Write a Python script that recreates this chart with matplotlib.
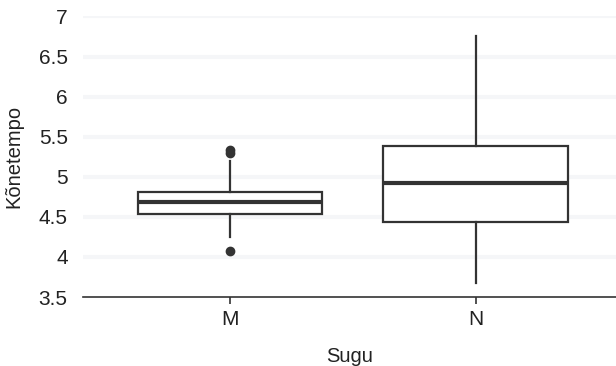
import matplotlib.pyplot as plt

plt.rcParams['font.family'] = ['Liberation Sans', 'DejaVu Sans']

# speech tempo by gender
categories = ['M', 'N']
whislo = [4.25, 3.68]
q1 = [4.535, 4.44]
med = [4.685, 4.92]
q3 = [4.805, 5.385]
whishi = [5.20, 6.76]
fliers = [[5.30, 5.335, 4.075], []]

yticks = [3.5, 4, 4.5, 5, 5.5, 6, 6.5, 7]
ytick_labels = ['3.5', '4', '4.5', '5', '5.5', '6', '6.5', '7']

DARK = '#333333'


def main():
    stats = []
    for i, name in enumerate(categories):
        stats.append({
            'label': name,
            'whislo': whislo[i],
            'q1': q1[i],
            'med': med[i],
            'q3': q3[i],
            'whishi': whishi[i],
            'fliers': fliers[i],
        })

    fig = plt.figure(figsize=(6.16, 3.66), dpi=100)
    ax = fig.add_axes([0.1347, 0.1885, 0.8653, 0.7665])

    for y in yticks[1:]:
        ax.axhline(y, color='#f5f6f8', lw=3.0, zorder=0)

    ax.bxp(
        stats, positions=range(len(categories)), widths=0.752,
        showcaps=False, patch_artist=True,
        boxprops=dict(facecolor='white', edgecolor=DARK, linewidth=1.6),
        medianprops=dict(color=DARK, linewidth=3.0),
        whiskerprops=dict(color=DARK, linewidth=1.6),
        flierprops=dict(marker='o', markerfacecolor=DARK, markeredgecolor=DARK,
                        markersize=6),
        zorder=2,
    )

    ax.set_xlim(-0.598, 1.57)
    ax.set_ylim(3.5, 7.0)
    ax.set_yticks(yticks)
    ax.set_yticklabels(ytick_labels)
    ax.set_xticks(range(len(categories)))
    ax.set_xticklabels(categories)

    for side in ['top', 'right', 'left']:
        ax.spines[side].set_visible(False)
    ax.spines['bottom'].set_color(DARK)
    ax.spines['bottom'].set_linewidth(1.2)

    ax.tick_params(axis='y', length=0, pad=11, labelsize=15, labelcolor='#222222')
    ax.tick_params(axis='x', length=5, width=1.2, color=DARK, pad=4,
                   labelsize=15, labelcolor='#222222')

    ax.set_xlabel('Sugu', fontsize=14.5, color='#222222', labelpad=13)
    ax.set_ylabel('Kõnetempo', fontsize=14.5, color='#222222', labelpad=11)

    fig.savefig('out.png', dpi=100)


if __name__ == '__main__':
    main()
